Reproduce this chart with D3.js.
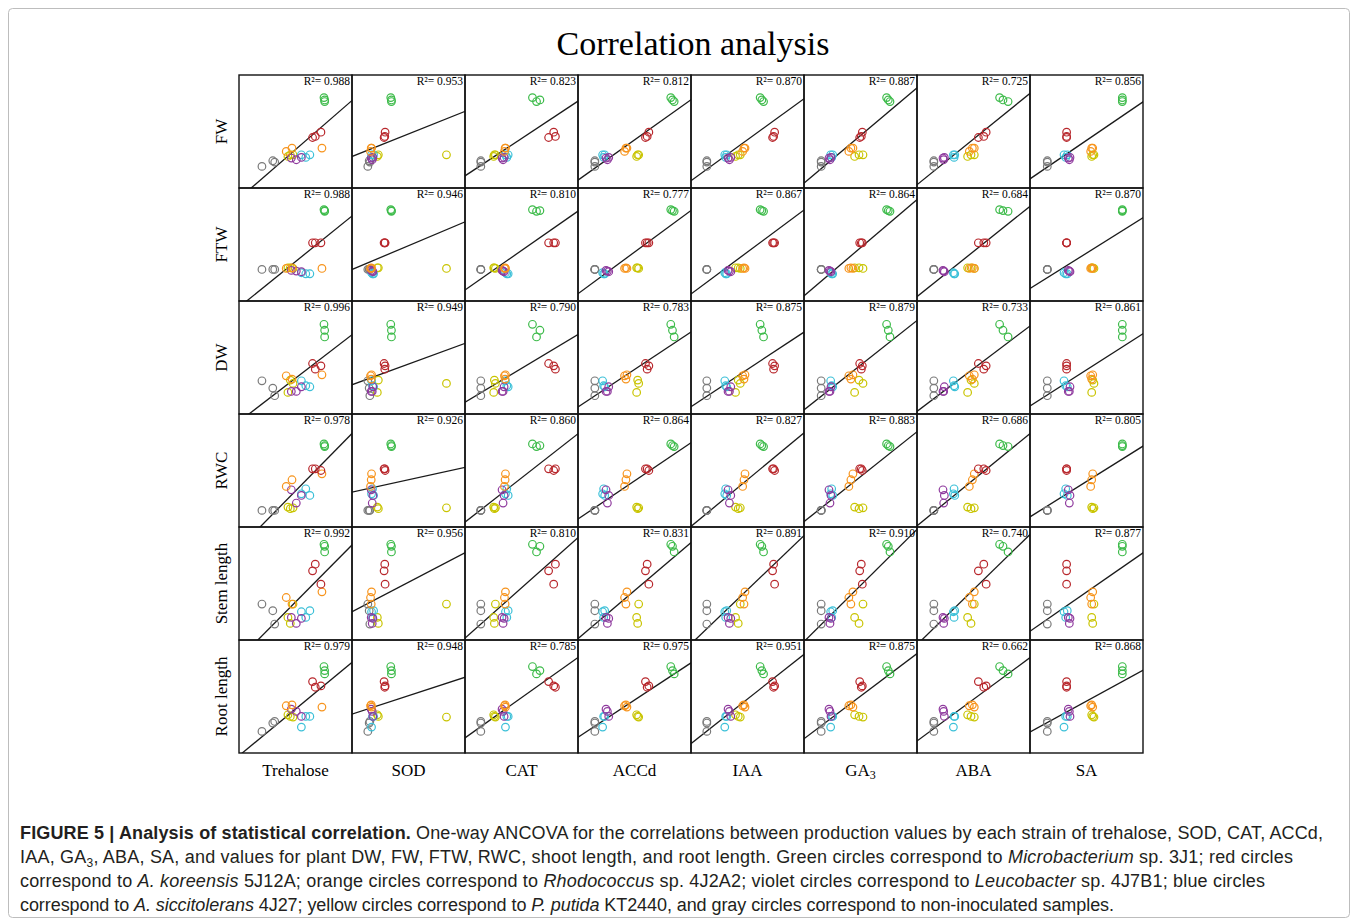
<!DOCTYPE html>
<html>
<head>
<meta charset="utf-8">
<script src="https://cdn.jsdelivr.net/npm/d3@7"></script>
<style>
  body { margin: 0; background: #fff; }
  svg { display: block; }
</style>
</head>
<body>
<div id="chart"></div>
<script>
// groups (strains), in drawing order
var groups = ["control", "P. putida KT2440", "A. siccitolerans 4J27", "Leucobacter sp. 4J7B1", "Rhodococcus sp. 4J2A2", "A. koreensis 5J12A", "Microbacterium sp. 3J1"];
var groupColors = ["#7a7a7a", "#c9c400", "#3cc0d8", "#8f3a9e", "#f7941d", "#b8272c", "#3dbb4a"];

var columns = ["Trehalose", "SOD", "CAT", "ACCd", "IAA", "GA3", "ABA", "SA"];
var rows = ["FW", "FTW", "DW", "RWC", "Stem length", "Root length"];

// predictor values (relative units, 3 replicates per strain), one array per column
var xTrehalose = [[20.3, 29.9, 31.6], [43.3, 45.4, 47.8], [55.2, 59.1, 62.7], [46.3, 50.7, 55.2], [41.8, 46.9, 73.4], [65.1, 67.5, 72.5], [75.2, 75.8, 75.8]];
var xSOD       = [[14.0, 15.2, 15.8], [22.4, 23.3, 83.6], [17.3, 18.2, 19.1], [17.0, 17.9, 18.5], [16.4, 17.0, 17.3], [28.4, 29.0, 29.3], [34.3, 34.9, 34.9]];
var xCAT       = [[14.0, 14.0, 14.0], [25.4, 26.0, 26.9], [35.8, 37.0, 38.2], [32.8, 33.7, 34.6], [34.9, 35.5, 35.8], [74.0, 80.0, 78.5], [59.7, 66.3, 63.3]];
var xACCd      = [[14.9, 14.9, 14.9], [51.9, 52.8, 53.7], [21.8, 22.7, 23.6], [24.8, 26.0, 27.2], [41.2, 42.4, 43.3], [59.7, 61.2, 62.7], [82.1, 83.6, 85.1]];
var xIAA       = [[14.0, 14.0, 14.0], [39.4, 41.8, 43.6], [29.9, 30.7, 31.6], [32.8, 34.0, 35.2], [45.7, 46.9, 47.8], [72.2, 73.1, 74.0], [61.2, 62.7, 64.2]];
var xGA3       = [[15.2, 15.2, 15.2], [44.8, 48.7, 52.2], [23.6, 24.5, 25.4], [22.1, 23.0, 23.9], [39.7, 41.5, 43.3], [49.3, 50.7, 51.6], [73.1, 74.6, 76.1]];
var xABA       = [[14.9, 14.9, 14.9], [44.8, 47.8, 50.7], [32.2, 32.8, 33.4], [23.0, 23.6, 24.2], [46.3, 49.0, 50.7], [54.3, 59.1, 61.2], [73.1, 76.1, 80.6]];
var xSA        = [[15.3, 15.3, 15.3], [54.6, 55.5, 56.6], [30.1, 31.6, 33.0], [33.9, 34.8, 35.4], [53.7, 54.6, 55.5], [32.4, 32.4, 32.4], [81.7, 81.7, 81.7]];

// plant values (relative units), one array per row
var yFW   = [[19.1, 24.1, 22.9], [27.9, 29.4, 29.4], [29.4, 27.1, 29.4], [26.5, 25.0, 27.1], [32.4, 35.3, 35.3], [44.7, 45.6, 49.4], [80.0, 77.9, 76.5]];
var yFTW  = [[27.9, 27.9, 27.9], [29.4, 29.4, 28.8], [25.0, 24.1, 24.1], [27.1, 26.5, 25.9], [28.8, 29.4, 28.8], [51.5, 51.5, 51.5], [80.9, 80.0, 79.4]];
var yDW   = [[29.4, 22.9, 16.2], [19.1, 30.0, 27.1], [29.4, 25.0, 24.1], [20.0, 20.0, 24.1], [33.8, 30.9, 34.7], [44.7, 39.7, 42.6], [79.4, 74.1, 68.2]];
var yRWC  = [[14.7, 14.7, 14.7], [17.6, 16.2, 17.0], [29.4, 33.8, 27.9], [32.9, 21.2, 27.9], [35.9, 41.8, 47.1], [51.5, 51.5, 50.0], [73.5, 72.1, 71.2]];
var yStem = [[31.8, 25.9, 14.1], [20.0, 14.7, 31.8], [25.0, 20.0, 25.9], [20.0, 14.7, 19.1], [37.6, 31.8, 42.6], [61.2, 67.1, 49.4], [84.7, 82.9, 77.9]];
var yRoot = [[19.1, 26.5, 27.9], [33.8, 32.4, 31.8], [22.9, 32.4, 32.4], [38.8, 36.8, 32.4], [41.8, 42.6, 40.6], [63.2, 58.2, 59.4], [76.5, 72.9, 70.0]];

// R squared labels, row by row
var r2FW   = [0.988, 0.953, 0.823, 0.812, 0.870, 0.887, 0.725, 0.856];
var r2FTW  = [0.988, 0.946, 0.810, 0.777, 0.867, 0.864, 0.684, 0.870];
var r2DW   = [0.996, 0.949, 0.790, 0.783, 0.875, 0.879, 0.733, 0.861];
var r2RWC  = [0.978, 0.926, 0.860, 0.864, 0.827, 0.883, 0.686, 0.805];
var r2Stem = [0.992, 0.956, 0.810, 0.831, 0.891, 0.910, 0.740, 0.877];
var r2Root = [0.979, 0.948, 0.785, 0.975, 0.951, 0.875, 0.662, 0.868];

var xData = [xTrehalose, xSOD, xCAT, xACCd, xIAA, xGA3, xABA, xSA];
var yData = [yFW, yFTW, yDW, yRWC, yStem, yRoot];
var r2Data = [r2FW, r2FTW, r2DW, r2RWC, r2Stem, r2Root];

var width = 1358, height = 922;
var grid = {left: 239, right: 1143, top: 75, bottom: 753};
var serif = "'Liberation Serif', 'Times New Roman', serif";

var svg = d3.select("#chart").append("svg")
  .attr("width", width)
  .attr("height", height);

// figure frame
svg.append("rect")
  .attr("x", 8.5).attr("y", 8.5)
  .attr("width", width - 17).attr("height", height - 13)
  .attr("rx", 4)
  .attr("fill", "none")
  .attr("stroke", "#bdbdbd")
  .attr("stroke-width", 1);

var colBand = d3.scaleBand().domain(columns).range([grid.left, grid.right]);
var rowBand = d3.scaleBand().domain(rows).range([grid.top, grid.bottom]);
var cw = colBand.bandwidth(), ch = rowBand.bandwidth();

var x = d3.scaleLinear().domain([0, 100]).range([0, cw]);
var y = d3.scaleLinear().domain([0, 100]).range([ch, 0]);

svg.append("defs").append("clipPath")
  .attr("id", "cellclip")
  .append("rect")
  .attr("width", cw).attr("height", ch);

// TITLE
svg.append("text")
  .attr("x", (grid.left + grid.right) / 2 + 2)
  .attr("y", 55)
  .attr("text-anchor", "middle")
  .style("font-family", serif)
  .style("font-size", "34px")
  .text("Correlation analysis");

rows.forEach(function(rowName, ri) {
  columns.forEach(function(colName, ci) {
    var pts = [];
    xData[ci].forEach(function(reps, gi) {
      reps.forEach(function(xv, k) {
        pts.push({g: gi, x: xv, y: yData[ri][gi][k]});
      });
    });

    // least squares line
    var mx = d3.mean(pts, function(d) { return d.x; });
    var my = d3.mean(pts, function(d) { return d.y; });
    var sxy = d3.sum(pts, function(d) { return (d.x - mx) * (d.y - my); });
    var sxx = d3.sum(pts, function(d) { return (d.x - mx) * (d.x - mx); });
    var slope = sxy / sxx, icpt = my - slope * mx;

    var cell = svg.append("g")
      .attr("transform", "translate(" + colBand(colName) + "," + rowBand(rowName) + ")");
    var inner = cell.append("g").attr("clip-path", "url(#cellclip)");

    inner.append("line")
      .attr("x1", x(-10)).attr("y1", y(icpt + slope * -10))
      .attr("x2", x(110)).attr("y2", y(icpt + slope * 110))
      .attr("stroke", "#1a1a1a")
      .attr("stroke-width", 1.3);

    inner.selectAll("circle")
      .data(pts)
      .enter().append("circle")
      .attr("cx", function(d) { return x(d.x); })
      .attr("cy", function(d) { return y(d.y); })
      .attr("r", 3.8)
      .attr("fill", "none")
      .attr("stroke", function(d) { return groupColors[d.g]; })
      .attr("stroke-width", 1.2);

    cell.append("text")
      .attr("x", cw - 2)
      .attr("y", 10)
      .attr("text-anchor", "end")
      .style("font-family", serif)
      .style("font-size", "11.5px")
      .text("R\u00b2= " + r2Data[ri][ci].toFixed(3));

    cell.append("rect")
      .attr("width", cw).attr("height", ch)
      .attr("fill", "none")
      .attr("stroke", "#111")
      .attr("stroke-width", 1.4);
  });
});

// row labels
svg.selectAll(".row-label")
  .data(rows)
  .enter().append("text")
  .attr("class", "row-label")
  .attr("transform", function(d) {
    return "translate(" + (grid.left - 12) + "," + (rowBand(d) + ch / 2) + ") rotate(-90)";
  })
  .attr("text-anchor", "middle")
  .style("font-family", serif)
  .style("font-size", "17px")
  .text(function(d) { return d; });

// column labels
var colLabels = svg.selectAll(".col-label")
  .data(columns)
  .enter().append("text")
  .attr("class", "col-label")
  .attr("x", function(d) { return colBand(d) + cw / 2; })
  .attr("y", grid.bottom + 23)
  .attr("text-anchor", "middle")
  .style("font-family", serif)
  .style("font-size", "17px");
colLabels.each(function(d) {
  var t = d3.select(this);
  if (d === "GA3") {
    t.append("tspan").text("GA");
    t.append("tspan").attr("font-size", "12px").attr("dy", 3).text("3");
  } else {
    t.text(d);
  }
});

// CAPTION
var capLines = [
  [["b", "FIGURE 5 | Analysis of statistical correlation."], ["n", " One-way ANCOVA for the correlations between production values by each strain of trehalose, SOD, CAT, ACCd,"]],
  [["n", "IAA, GA"], ["sub", "3"], ["n", ", ABA, SA, and values for plant DW, FW, FTW, RWC, shoot length, and root length. Green circles correspond to "], ["i", "Microbacterium"], ["n", " sp. 3J1; red circles"]],
  [["n", "correspond to "], ["i", "A. koreensis"], ["n", " 5J12A; orange circles correspond to "], ["i", "Rhodococcus"], ["n", " sp. 4J2A2; violet circles correspond to "], ["i", "Leucobacter"], ["n", " sp. 4J7B1; blue circles"]],
  [["n", "correspond to "], ["i", "A. siccitolerans"], ["n", " 4J27; yellow circles correspond to "], ["i", "P. putida"], ["n", " KT2440, and gray circles correspond to non-inoculated samples."]]
];
var capWidths = [1303, 1273, 1245, 1094];

capLines.forEach(function(parts, li) {
  var t = svg.append("text")
    .attr("x", 20)
    .attr("y", 839 + li * 24)
    .attr("textLength", capWidths[li])
    .attr("lengthAdjust", "spacing")
    .style("font-family", "'Liberation Sans', Arial, sans-serif")
    .style("font-size", "18px")
    .attr("fill", "#231f20");
  var afterSub = false;
  parts.forEach(function(p) {
    var s = t.append("tspan").text(p[1]);
    if (p[0] === "b") s.attr("font-weight", "bold");
    if (p[0] === "i") s.attr("font-style", "italic");
    if (afterSub) { s.attr("dy", -4); afterSub = false; }
    if (p[0] === "sub") {
      s.attr("font-size", "12px").attr("dy", 4);
      afterSub = true;
    }
  });
});
</script>
</body>
</html>
